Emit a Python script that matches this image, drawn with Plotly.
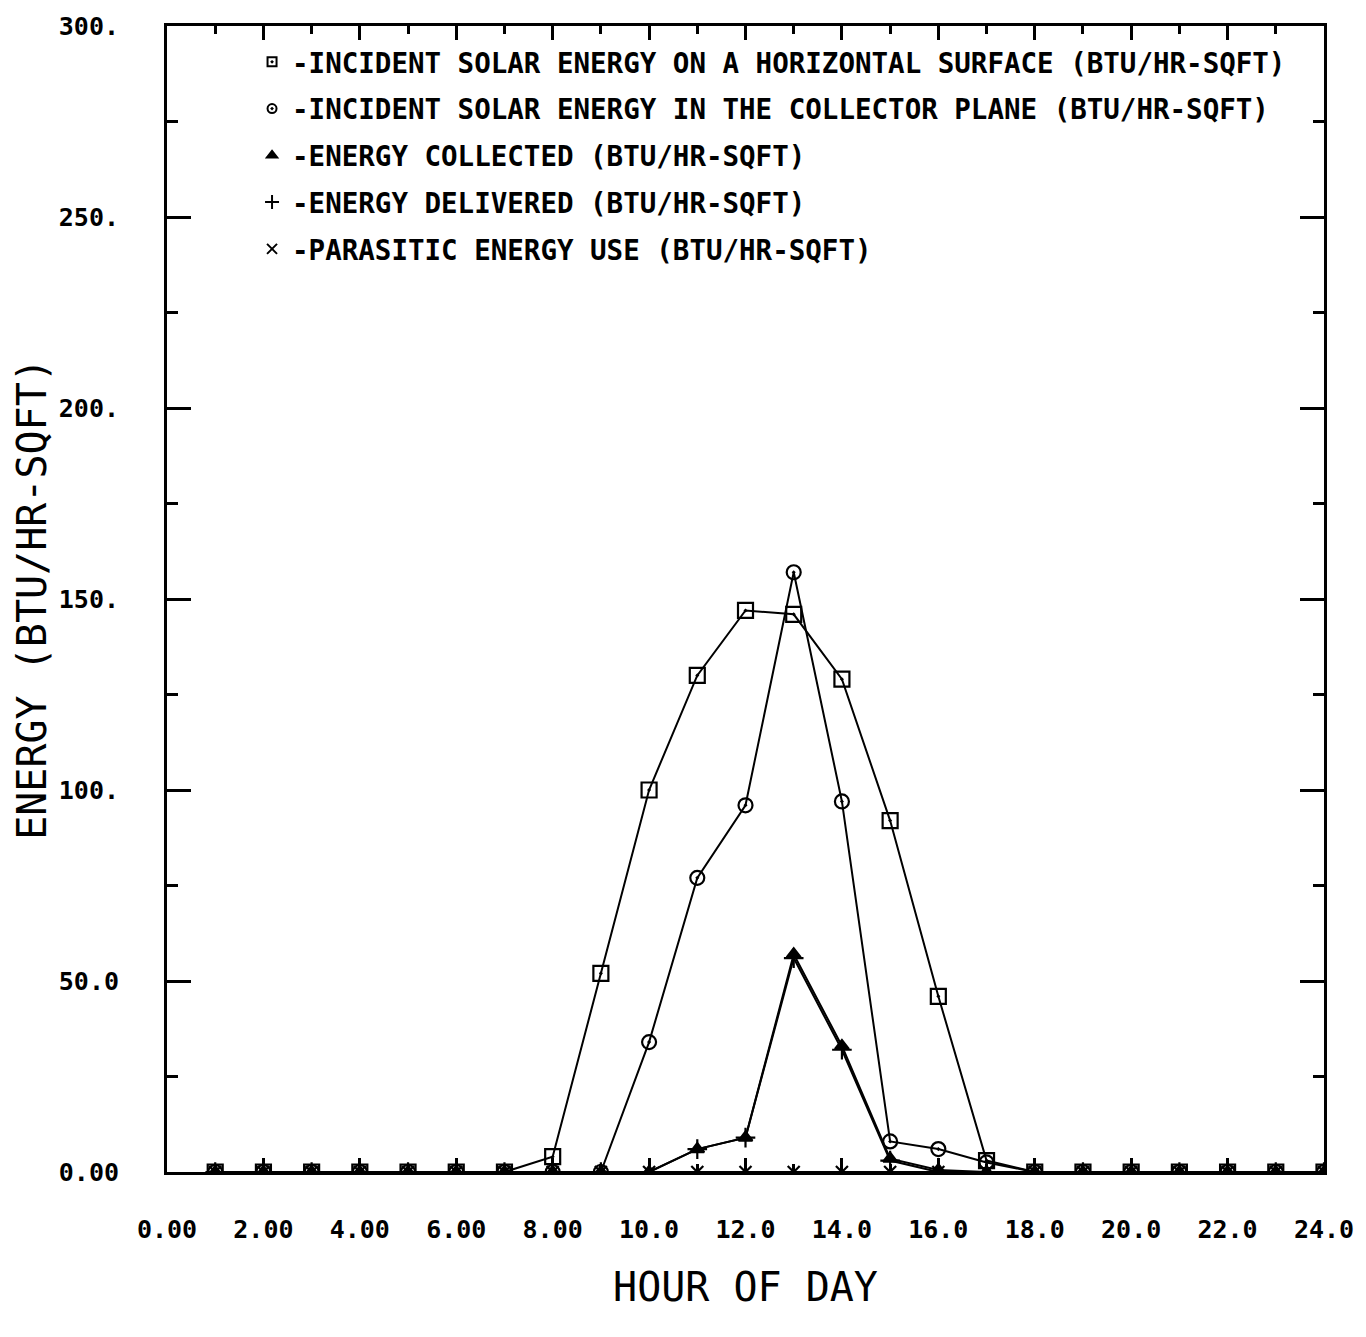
import plotly.graph_objects as go

# ---------------- data ----------------
hours = list(range(1, 25))
horizontal = [0, 0, 0, 0, 0, 0, 0, 4, 52, 100, 130, 147, 146, 129, 92, 46, 3, 0, 0, 0, 0, 0, 0, 0]
collector = [0, 0, 0, 0, 0, 0, 0, 0, 0, 34, 77, 96, 157, 97, 8, 6, 2.5, 0, 0, 0, 0, 0, 0, 0]
collected = [0, 0, 0, 0, 0, 0, 0, 0, 0, 0, 6, 9, 57, 33, 3.5, 0.5, 0, 0, 0, 0, 0, 0, 0, 0]
delivered = [0, 0, 0, 0, 0, 0, 0, 0, 0, 0, 6, 9, 56, 32, 3, 0, 0, 0, 0, 0, 0, 0, 0, 0]
parasitic = [0] * 24

series_names = [
    "-INCIDENT SOLAR ENERGY ON A HORIZONTAL SURFACE (BTU/HR-SQFT)",
    "-INCIDENT SOLAR ENERGY IN THE COLLECTOR PLANE (BTU/HR-SQFT)",
    "-ENERGY COLLECTED (BTU/HR-SQFT)",
    "-ENERGY DELIVERED (BTU/HR-SQFT)",
    "-PARASITIC ENERGY USE (BTU/HR-SQFT)",
]

x_tickvals = [0, 2, 4, 6, 8, 10, 12, 14, 16, 18, 20, 22, 24]
x_ticktext = ["0.00", "2.00", "4.00", "6.00", "8.00", "10.0", "12.0",
              "14.0", "16.0", "18.0", "20.0", "22.0", "24.0"]
y_tickvals = [0, 50, 100, 150, 200, 250, 300]
y_ticktext = ["0.00", "50.0", "100.", "150.", "200.", "250.", "300."]

# ---------------- styles ----------------
symbols = ["square-open-dot", "circle-open-dot", "triangle-up", "cross-thin-open", "x-thin-open"]
sizes = [15, 14, 12, 14, 12]
legend_sizes = [9, 9, 9, 10, 10]
MONO = "DejaVu Sans Mono"

fig = go.Figure()
all_series = [horizontal, collector, collected, delivered, parasitic]
for vals, sym, sz in zip(all_series, symbols, sizes):
    fig.add_trace(go.Scatter(
        x=hours, y=vals, mode="lines+markers",
        line=dict(color="black", width=2),
        marker=dict(symbol=sym, size=sz, color="black",
                    line=dict(color="black", width=2.2)),
        showlegend=False,
    ))

# legend-only entries (marker symbol only, as in the original)
for i, (name, sym, sz) in enumerate(zip(series_names, symbols, legend_sizes)):
    fig.add_trace(go.Scatter(
        x=[None], y=[None], mode="markers", name=name,
        legendgroup=f"g{i}",
        marker=dict(symbol=sym, size=sz, color="black",
                    line=dict(color="black", width=2)),
        showlegend=True,
    ))

fig.update_layout(
    width=1366, height=1337,
    margin=dict(l=167, r=39, t=22, b=165),
    plot_bgcolor="white", paper_bgcolor="white",
    font=dict(family=MONO, color="black"),
    legend=dict(
        x=0.0735, y=0.990, xanchor="left", yanchor="top",
        bgcolor="rgba(0,0,0,0)", borderwidth=0,
        font=dict(family=MONO, size=27.5, color="black", weight="bold"),
        itemwidth=30, traceorder="grouped", tracegroupgap=8,
    ),
)

fig.update_xaxes(
    range=[0, 24], showgrid=False, zeroline=False,
    showline=True, linecolor="black", linewidth=3, mirror="ticks",
    ticks="inside", ticklen=14, tickwidth=2.5, tickcolor="black",
    tickvals=x_tickvals, ticktext=x_ticktext,
    tickfont=dict(family=MONO, size=25, color="black", weight="bold"),
    ticklabelstandoff=33,
    minor=dict(ticks="inside", ticklen=8, tickwidth=2.5, tickcolor="black", dtick=1, tick0=0),
    title=dict(text="HOUR OF DAY", font=dict(family=MONO, size=40, color="black"), standoff=30),
)
fig.update_yaxes(
    range=[0, 300], showgrid=False, zeroline=False,
    showline=True, linecolor="black", linewidth=3, mirror="ticks",
    ticks="inside", ticklen=24, tickwidth=2.5, tickcolor="black",
    tickvals=y_tickvals, ticktext=y_ticktext,
    tickfont=dict(family=MONO, size=25, color="black", weight="bold"),
    ticklabelstandoff=40,
    minor=dict(ticks="inside", ticklen=11, tickwidth=2.5, tickcolor="black", dtick=25, tick0=0),
    title=dict(text="ENERGY (BTU/HR-SQFT)", font=dict(family=MONO, size=40, color="black"), standoff=0),
)

fig.write_html("out.html")
